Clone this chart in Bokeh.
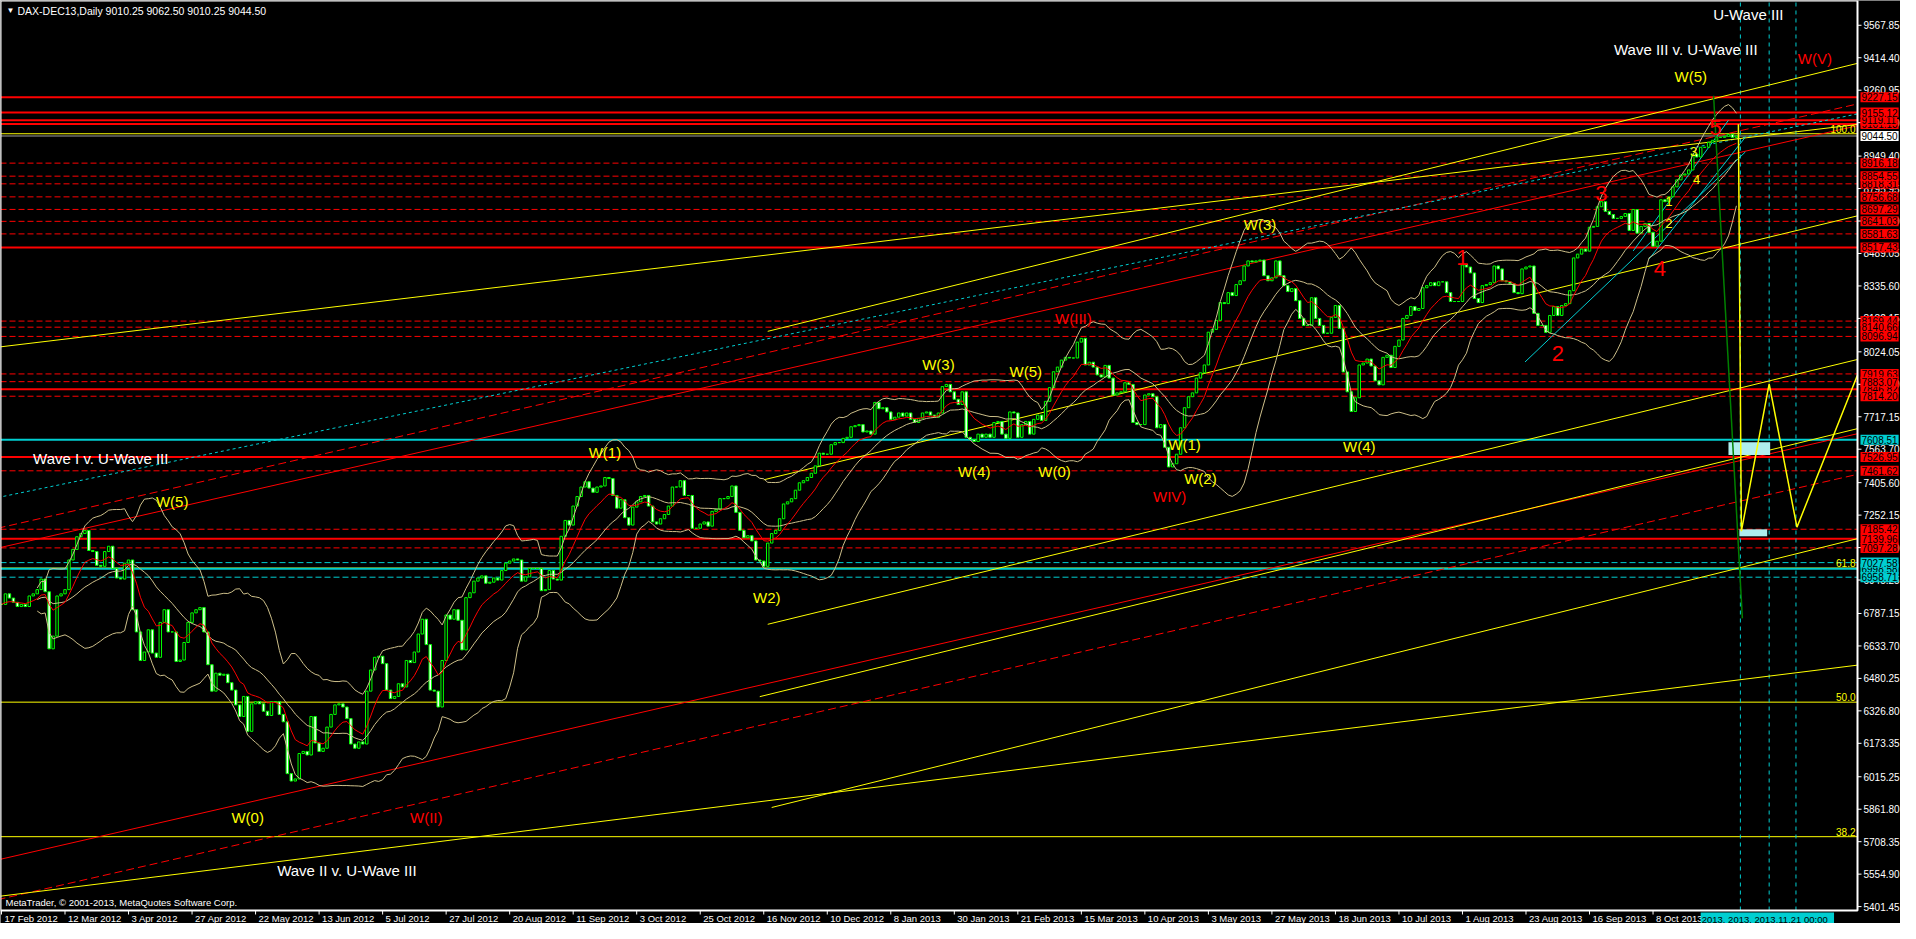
import pandas as pd
from bokeh.plotting import figure
from bokeh.models import Range1d, Label, ColumnDataSource
from bokeh.embed import file_html
from bokeh.resources import INLINE

# ---------------- data ----------------
close_prices = [
    6830, 6880, 6860, 6840, 6820, 6830, 6820, 6870, 6880, 6900,
    6950, 6890, 6620, 6680, 6870, 6880, 6900, 7040, 7090, 7150,
    7165, 7180, 7085, 7080, 7015, 7010, 7080, 7105, 7000, 6955,
    6950, 7025, 7040, 6805, 6700, 6565, 6605, 6710, 6600, 6580,
    6745, 6805, 6700, 6700, 6560, 6567, 6650, 6745, 6790, 6805,
    6815, 6700, 6545, 6420, 6505, 6495, 6500, 6460, 6425, 6355,
    6300, 6395, 6230, 6360, 6370, 6360, 6325, 6305, 6370, 6370,
    6310, 6275, 6030, 5995, 6005, 6125, 6135, 6118, 6300, 6175,
    6135, 6150, 6250, 6310, 6355, 6360, 6345, 6290, 6170, 6150,
    6180, 6170, 6420, 6520, 6580, 6585, 6550, 6425, 6385, 6395,
    6455, 6440, 6565, 6555, 6605, 6690, 6760, 6640, 6425, 6420,
    6345, 6565, 6780, 6760, 6805, 6755, 6615, 6862, 6885, 6940,
    6955, 6965, 6930, 6935, 6955, 6945, 6990, 7025, 7035, 7045,
    7040, 6940, 6960, 7000, 7000, 7000, 6895, 6900, 6990, 6950,
    6945, 7152, 7227, 7205, 7295, 7340, 7385, 7410, 7380, 7360,
    7385, 7390, 7430, 7425, 7345, 7285, 7325, 7240, 7205, 7290,
    7315, 7340, 7345, 7295, 7220, 7210, 7235, 7255, 7295, 7385,
    7385, 7415, 7345, 7345, 7190, 7190, 7210, 7220, 7200, 7270,
    7280, 7330, 7330, 7340, 7390, 7265, 7180, 7145, 7155, 7130,
    7040, 7035, 7010, 7120, 7165, 7180, 7235, 7305, 7315, 7330,
    7370, 7405, 7415, 7430, 7450, 7485, 7545, 7540, 7540, 7585,
    7595, 7595, 7615, 7620, 7670, 7675, 7680, 7645, 7650, 7635,
    7785, 7755, 7760, 7740, 7705, 7715, 7735, 7720, 7735, 7705,
    7690, 7710, 7735, 7740, 7725, 7715, 7735, 7860, 7870, 7835,
    7800, 7775, 7835, 7620, 7610, 7600, 7635, 7620, 7635, 7620,
    7690, 7695, 7635, 7615, 7740, 7735, 7620, 7680, 7695, 7635,
    7705, 7725, 7700, 7790, 7855, 7930, 7952, 7985, 7998, 7995,
    7995, 8070, 8088, 7962, 7975, 7952, 7915, 7905, 7960, 7900,
    7820, 7830, 7835, 7878, 7870, 7690, 7680, 7680, 7820, 7826,
    7812, 7665, 7680, 7573, 7480, 7495, 7540, 7665, 7760, 7812,
    7830, 7900, 7925, 7962, 8117, 8130, 8173, 8257, 8252, 8304,
    8290, 8342, 8360, 8430, 8454, 8449, 8454, 8458, 8384, 8360,
    8374, 8454, 8384, 8337, 8309, 8323, 8266, 8182, 8149, 8149,
    8280, 8182, 8149, 8112, 8112, 8187, 8243, 8135, 7929, 7835,
    7742, 7807, 7962, 7971, 7990, 7957, 7887, 7868, 7998, 8008,
    7950, 8050, 8080, 8182, 8196, 8238, 8220, 8229, 8327, 8337,
    8351, 8337, 8355, 8355, 8304, 8262, 8262, 8262, 8435, 8425,
    8397, 8276, 8257, 8337, 8342, 8351, 8430, 8416, 8360, 8355,
    8346, 8304, 8299, 8416, 8425, 8430, 8206, 8149, 8149, 8116,
    8196, 8238, 8196, 8243, 8252, 8313, 8468, 8486, 8510, 8500,
    8613, 8617, 8710, 8734, 8688, 8673, 8655, 8655, 8664, 8678,
    8598, 8697, 8585, 8617, 8631, 8589, 8523, 8547, 8743, 8734,
    8757, 8804, 8837, 8860, 8865, 8884, 8959, 8945, 8991, 8991,
    9015, 9024, 9038, 9038, 9043, 9052, 9038, 9044.5,
]

date_labels = [
    "17 Feb 2012", "12 Mar 2012", "3 Apr 2012", "27 Apr 2012", "22 May 2012",
    "13 Jun 2012", "5 Jul 2012", "27 Jul 2012", "20 Aug 2012", "11 Sep 2012",
    "3 Oct 2012", "25 Oct 2012", "16 Nov 2012", "10 Dec 2012", "8 Jan 2013",
    "30 Jan 2013", "21 Feb 2013", "15 Mar 2013", "10 Apr 2013", "3 May 2013",
    "27 May 2013", "18 Jun 2013", "10 Jul 2013", "1 Aug 2013", "23 Aug 2013",
    "16 Sep 2013", "8 Oct 2013",
]
bars_per_date_label = 16

price_ticks = [9567.85, 9414.40, 9260.95, 9107.50, 8949.40, 8795.95, 8642.50,
               8489.05, 8335.60, 8182.15, 8024.05, 7870.60, 7717.15, 7563.70,
               7405.60, 7252.15, 7098.70, 6945.25, 6787.15, 6633.70, 6480.25,
               6326.80, 6173.35, 6015.25, 5861.80, 5708.35, 5554.90, 5401.45]

red_solid_levels = [9101.13, 9119.11, 9155.12, 9227.15, 8517.43, 7846.82, 7526.95, 7139.96]
red_dashed_levels = [8916.18, 8818.31, 8854.55, 8756.68, 8697.29, 8641.03, 8581.63,
                     8169.44, 8140.66, 8096.94, 7919.63, 7883.07, 7814.20,
                     7461.62, 7185.42, 7097.28]
cyan_solid_levels = [7608.51, 6998.58]
cyan_dashed_levels = [7027.58, 6958.71]
fib_levels = [9055.0, 7002.0, 6368.0, 5732.0]
fib_names = ["100.0", "61.8", "50.0", "38.2"]
last_price = 9044.50
title_text = "DAX-DEC13,Daily  9010.25 9062.50 9010.25 9044.50"

# trend lines: (bar0, price0, bar1, price1)
yellow_trends = [(-1, 8046, 467.5, 9099), (193, 8121, 467.5, 9388), (192, 7419, 467.5, 8667),
                 (193, 6736, 467.5, 7988), (-1, 5449, 467.5, 6543), (194, 5870, 467.5, 7141),
                 (191, 6394, 467.5, 7661)]
red_solid_trends = [(-1, 7096, 467.5, 9093), (-1, 5622, 467.5, 7637)]
red_dashed_trends = [(-1, 7190, 467.5, 9196), (-1, 5434, 467.5, 7445)]
cyan_dotted_trends = [(-1, 7335, 467.5, 9149)]
cyan_solid_trends = [(383.75, 7976, 439.25, 8969), (411, 8501, 435, 9119), (415, 8463, 439.25, 9039)]

green_path_bars = [431.25, 438.5]
green_path_prices = [9235, 6764]
yellow_path_bars = [437.5, 438.25, 445.25, 452.25, 467.5]
yellow_path_prices = [9100, 7176, 7873, 7195, 7915]
box_left = [435, 437.75]
box_right = [445.5, 444.75]
box_bottom = [7536, 7152]
box_top = [7597, 7185]
vline_bars = [438, 445.25, 452]

wave_texts = ["U-Wave III", "Wave III v. U-Wave III", "W(V)", "W(5)", "Wave I v. U-Wave III",
              "W(5)", "W(0)", "W(II)", "Wave II v. U-Wave III", "W(1)", "W2)", "W(3)", "W(5)",
              "W(4)", "W(0)", "W(III)", "W(1)", "W(2)", "WIV)", "W(3)", "W(4)",
              "1", "2", "3", "4", "5", "1", "2", "3", "4"]
wave_bars = [440, 424.25, 456.75, 425.5, 25, 43, 62, 107, 87, 152, 192.75, 236, 258,
             245, 265.25, 270, 298, 302, 294.25, 317, 342,
             368, 392, 403, 417.75, 431.75, 420, 420, 426.25, 427]
wave_prices = [9619, 9455, 9409, 9324, 7518, 7316, 5823, 5823, 5570, 7546, 6862, 7962, 7930,
               7457, 7457, 8182, 7588, 7424, 7340, 8627, 7578,
               8468, 8018, 8772, 8416, 9086, 8735, 8632, 8969, 8838]
wave_colors = ["white", "white", "red", "yellow", "white", "yellow", "yellow", "red", "white",
               "yellow", "yellow", "yellow", "yellow", "yellow", "yellow", "red", "yellow",
               "yellow", "red", "yellow", "yellow",
               "red", "red", "red", "red", "red", "yellow", "yellow", "yellow", "yellow"]
wave_sizes = ["15px"] * 21 + ["22px"] * 5 + ["13px"] * 4

# ---------------- layout ----------------
X0, X1 = -0.25, 467.5          # bar range of the chart area
Y0, Y1 = 5383.0, 9685.0        # price range of the chart area
FIG_W, FIG_H = 1900, 923
PLOT_W, PLOT_H = 1857, 910     # chart area inside the figure; rest holds the scales
XR_END = X0 + (X1 - X0) * FIG_W / PLOT_W
YR_START = Y1 - (Y1 - Y0) * FIG_H / PLOT_H

FONT = "Liberation Sans"
YELLOW = "#FFFF00"
RED = "#FF0000"
CYAN = "#00CED1"
KHAKI = "#CDBF8A"

p = figure(width=FIG_W, height=FIG_H, output_backend="svg", toolbar_location=None,
           x_range=Range1d(X0, XR_END), y_range=Range1d(YR_START, Y1),
           x_axis_location=None, y_axis_location=None,
           min_border_left=0, min_border_right=0, min_border_top=0, min_border_bottom=0)
p.background_fill_color = "black"
p.border_fill_color = "black"
p.outline_line_color = None
p.grid.visible = False

n = len(close_prices)


def hlines(levels, color, width, dash="solid"):
    p.segment(x0=[X0] * len(levels), y0=levels, x1=[X1] * len(levels), y1=levels,
              line_color=color, line_width=width, line_dash=dash)


hlines(red_solid_levels, RED, 2)
hlines(red_dashed_levels, RED, 1, "6 3")
hlines(fib_levels, YELLOW, 1)
hlines(cyan_solid_levels, CYAN, 2)
hlines(cyan_dashed_levels, CYAN, 1, "6 3")
hlines([last_price], "#A0A0A0", 1)
p.segment(x0=vline_bars, y0=[Y0] * 3, x1=vline_bars, y1=[Y1] * 3,
          line_color=CYAN, line_width=1, line_dash="4 4")


def seg(trends, color, dash="solid", width=1):
    p.segment(x0=[t[0] for t in trends], y0=[t[1] for t in trends],
              x1=[t[2] for t in trends], y1=[t[3] for t in trends],
              line_color=color, line_width=width, line_dash=dash)


seg(red_solid_trends, RED)
seg(red_dashed_trends, RED, "8 4")
seg(cyan_dotted_trends, CYAN, "3 3")
seg(yellow_trends, YELLOW)
seg(cyan_solid_trends, CYAN)

p.quad(left=box_left, right=box_right, bottom=box_bottom, top=box_top,
       fill_color="#AFEEEE", line_color=None)

# candles
opens = [close_prices[0]] + close_prices[:-1]
src = ColumnDataSource(dict(
    x=list(range(n)),
    top=[max(o, c) for o, c in zip(opens, close_prices)],
    bottom=[min(o, c) for o, c in zip(opens, close_prices)],
    fill=["black" if c >= o else "white" for o, c in zip(opens, close_prices)],
))
p.vbar(x="x", top="top", bottom="bottom", width=0.62, fill_color="fill",
       line_color="#00FF00", line_width=1, source=src)

# indicators (Bollinger 20/2 and a fast MA)
s = pd.Series(close_prices, dtype=float)
mid = s.rolling(20, min_periods=10).mean()
sd = s.rolling(20, min_periods=10).std(ddof=0)
xs = list(range(n))
p.line(xs, (mid + 2 * sd).tolist(), line_color=KHAKI, line_width=1)
p.line(xs, (mid - 2 * sd).tolist(), line_color=KHAKI, line_width=1)
p.line(xs, mid.tolist(), line_color=KHAKI, line_width=1)
p.line(xs, s.ewm(span=10, adjust=False).mean().tolist(), line_color=RED, line_width=1)

p.line(green_path_bars, green_path_prices, line_color="#008000", line_width=1.5)
p.line(yellow_path_bars, yellow_path_prices, line_color=YELLOW, line_width=1.5)

# chart frame and the two scales (price on the right, dates below)
p.quad(left=[X0], right=[X1], bottom=[Y0], top=[Y1], fill_color=None,
       line_color="white", line_width=2)
p.ray(x=[X1] * len(price_ticks), y=price_ticks, length=4, length_units="screen",
      angle=0, line_color="white", line_width=1)
date_ticks = [k * bars_per_date_label for k in range(len(date_labels))]
p.ray(x=date_ticks, y=[Y0] * len(date_ticks), length=4, length_units="screen",
      angle=-1.5708, line_color="white", line_width=1)

for t in price_ticks:
    p.add_layout(Label(x=X1, y=t, x_offset=6, text="%.2f" % t, text_color="white",
                       text_font=FONT, text_font_size="10px", text_align="left",
                       text_baseline="middle"))
for b, d in zip(date_ticks, date_labels):
    p.add_layout(Label(x=b, y=Y0, x_offset=3, y_offset=-2, text=d,
                       text_color="white", text_font=FONT, text_font_size="9.5px",
                       text_align="left", text_baseline="top"))


def price_box(lv, bg):
    p.add_layout(Label(x=X1, y=lv, x_offset=3, text="%.2f" % lv, text_color="black",
                       text_font=FONT, text_font_size="10px", text_align="left",
                       text_baseline="middle", background_fill_color=bg, padding=1))


for lv in red_solid_levels + red_dashed_levels:
    price_box(lv, RED)
for lv in cyan_solid_levels + cyan_dashed_levels:
    price_box(lv, CYAN)
price_box(last_price, "white")

p.add_layout(Label(x=vline_bars[0] - 10, y=Y0, x_offset=0, y_offset=-2,
                   text="2013.  2013.  2013.11.21 00:00", text_color="black",
                   text_font=FONT, text_font_size="9.5px", text_align="left",
                   text_baseline="top", background_fill_color=CYAN, padding=1))

# wave annotations
for t, b, pr, c, fs in zip(wave_texts, wave_bars, wave_prices, wave_colors, wave_sizes):
    col = {"white": "#FFFFFF", "red": "#FF0000", "yellow": "#FFFF00"}[c]
    p.add_layout(Label(x=b, y=pr, text=t, text_color=col, text_font=FONT,
                       text_font_size=fs, text_align="center", text_baseline="middle"))

for name, lv in zip(fib_names, fib_levels):
    p.add_layout(Label(x=X1, y=lv, x_offset=-2, y_offset=1, text=name, text_color=YELLOW,
                       text_font=FONT, text_font_size="10px",
                       text_align="right", text_baseline="bottom"))

p.add_layout(Label(x=X0, y=Y1, x_offset=6, y_offset=-5, text="\u25BC", text_color="white",
                   text_font=FONT, text_font_size="8px", text_baseline="top"))
p.add_layout(Label(x=X0, y=Y1, x_offset=17, y_offset=-4, text=title_text, text_color="white",
                   text_font=FONT, text_font_size="10.5px", text_baseline="top"))
p.add_layout(Label(x=X0, y=Y0, x_offset=5, y_offset=3,
                   text="MetaTrader, \u00a9 2001-2013, MetaQuotes Software Corp.",
                   text_color="white", text_font=FONT, text_font_size="9.5px",
                   text_baseline="bottom"))

open("out.html", "w").write(file_html(p, INLINE))
